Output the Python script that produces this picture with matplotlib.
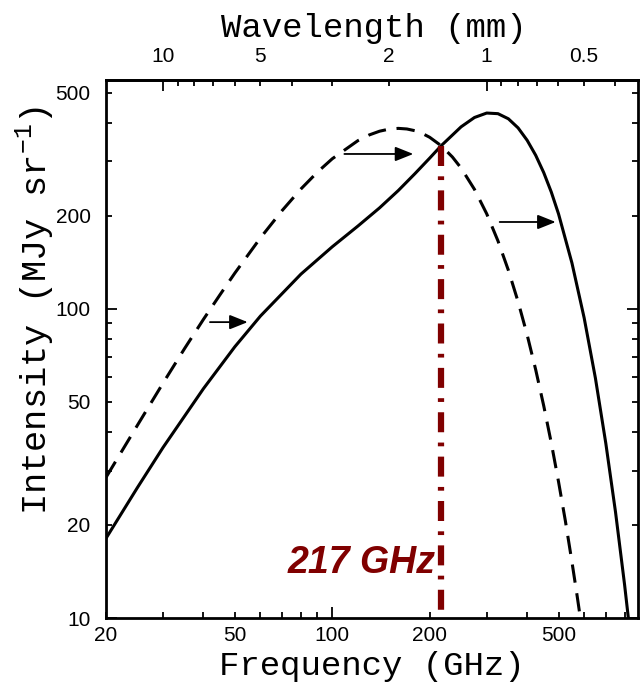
import matplotlib
matplotlib.use('Agg')
import matplotlib.pyplot as plt
import matplotlib.ticker as mticker
import numpy as np

# undistorted CMB spectrum (dashed)
freq_cmb = [20, 25, 30, 35, 40, 45, 50, 60, 70, 80, 90, 100, 120, 130, 140, 150, 160, 170,
            180, 190, 200, 217, 235, 250, 275, 300, 325, 350, 375, 400, 425, 450, 475,
            500, 525, 550, 570, 590]
int_cmb = [28.5, 42.0, 57.5, 74.5, 92.5, 111.1, 130.5, 169.7, 208.0, 244.2, 277.0, 305.9,
           350.1, 365.2, 375.6, 381.6, 383.6, 381.9, 377.0, 369.1, 358.9, 337.1, 310.0,
           285.5, 243.5, 203.0, 165.9, 133.3, 105.5, 82.4, 63.6, 48.6, 36.8, 27.6, 20.6,
           15.2, 11.9, 9.3]

# SZ distorted spectrum (solid)
freq_sz = [20, 25, 30, 40, 50, 60, 80, 100, 120, 140, 160, 180, 200, 217, 250, 275, 300,
           325, 350, 375, 400, 425, 450, 475, 500, 550, 600, 650, 700, 750, 800, 850]
int_sz = [18.1, 26.4, 35.6, 55.2, 75.4, 94.8, 129.5, 158.8, 185.3, 212.2, 241.5, 273.7,
          307.4, 337.1, 388.0, 416.0, 430.0, 428.0, 412.0, 385.0, 351.0, 314.0, 276.0,
          238.6, 202.9, 140.8, 93.5, 59.7, 36.7, 22.0, 12.8, 7.3]

# SZ null
null_freq = 217
null_int = 337.1

# arrows: (start freq, end freq, intensity)
arrows = [(41.9, 54.8, 90.6), (109, 178, 317), (329, 490, 191)]

C_MM_GHZ = 299.792458
red = '#800000'
label_font = 'Liberation Mono'

plt.rcParams['mathtext.fontset'] = 'custom'
plt.rcParams['mathtext.rm'] = label_font

fig = plt.figure(figsize=(6.41, 6.86), dpi=100)
ax = fig.add_axes([106/641, 1-618/686, (638-106)/641, (618-80)/686])
ax.set_xscale('log')
ax.set_yscale('log')
ax.set_xlim(20, 880)
ax.set_ylim(10, 550)

ax.plot(freq_cmb, int_cmb, color='k', lw=2.2, ls=(0, (6, 3.5)))
ax.plot(freq_sz, int_sz, color='k', lw=2.2)
ax.plot([null_freq, null_freq], [null_int, 10], color=red, lw=4.5,
        ls=(0, (3.2, 1.65, 0.6, 1.65)), solid_capstyle='butt', dash_capstyle='butt')

for f0, f1, y in arrows:
    ax.annotate('', xy=(f1, y), xytext=(f0, y),
                arrowprops=dict(arrowstyle='-|>,head_length=0.55,head_width=0.22',
                                color='k', lw=1.3, mutation_scale=20,
                                shrinkA=0, shrinkB=0))

ax.text(208, 14.0, '217 GHz', color=red, fontsize=27, fontweight='bold', fontstyle='italic',
        family='Liberation Sans', ha='right', va='baseline')


def lab(v, pos):
    m = v / 10 ** np.floor(np.log10(v) + 1e-9)
    if round(m) in (1, 2, 5):
        return '%g' % v
    return ''


for axis in (ax.xaxis, ax.yaxis):
    axis.set_major_locator(mticker.LogLocator(base=10, subs=(1.0,)))
    axis.set_minor_locator(mticker.LogLocator(base=10, subs=np.arange(2, 10)))
    axis.set_major_formatter(mticker.FuncFormatter(lab))
    axis.set_minor_formatter(mticker.FuncFormatter(lab))

ax.tick_params(which='both', direction='in', top=False, right=True, width=1.3,
               labelsize=15)
ax.tick_params(axis='x', which='both', pad=6)
ax.tick_params(axis='y', which='both', pad=11)
ax.tick_params(which='major', length=8)
ax.tick_params(which='minor', length=4)
for lbl in ax.get_xticklabels(which='both') + ax.get_yticklabels(which='both'):
    lbl.set_family('Liberation Sans')
for s in ax.spines.values():
    s.set_linewidth(2)

secax = ax.secondary_xaxis('top', functions=(lambda f: C_MM_GHZ / f, lambda l: C_MM_GHZ / l))
secax.xaxis.set_major_locator(mticker.FixedLocator([10, 1]))
secax.xaxis.set_minor_locator(mticker.FixedLocator([9, 8, 7, 6, 5, 4, 3, 2,
                                                    0.9, 0.8, 0.7, 0.6, 0.5, 0.4]))
secax.xaxis.set_major_formatter(mticker.FuncFormatter(lab))
secax.xaxis.set_minor_formatter(mticker.FuncFormatter(lab))
secax.tick_params(which='both', direction='in', width=1.3, labelsize=15, pad=10)
secax.tick_params(which='major', length=8)
secax.tick_params(which='minor', length=4)
for lbl in secax.get_xticklabels(which='both'):
    lbl.set_family('Liberation Sans')
secax.spines['top'].set_linewidth(2)

fig.text(372/641, 1-667/686, 'Frequency (GHz)', ha='center', va='center',
         family=label_font, fontsize=24.5)
fig.text(374/641, 1-28/686, 'Wavelength (mm)', ha='center', va='center',
         family=label_font, fontsize=24.5)
fig.text(35/641, 1-310/686, 'Intensity (MJy sr$^{-1}$)', ha='center', va='center',
         rotation=90, family=label_font, fontsize=25.5)

fig.savefig('out.png', dpi=100)
